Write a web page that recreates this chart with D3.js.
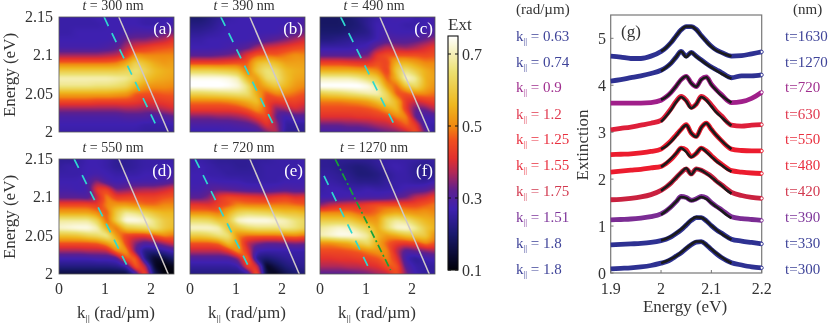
<!DOCTYPE html>
<html><head><meta charset="utf-8">
<script src="https://cdn.jsdelivr.net/npm/d3@7/dist/d3.min.js"></script>
<style>
html,body{margin:0;padding:0;background:#fff;width:830px;height:323px;overflow:hidden}
canvas,svg{position:absolute;left:0;top:0}
text{font-family:"Liberation Serif","Times New Roman",serif;fill:#333}
</style></head><body>
<canvas id="heat" width="830" height="323"></canvas>
<svg id="chart" width="830" height="323"></svg>
<script>
// Panel titles / labels
const thicknessTitles=["300","390","490","550","720","1270"];
const panelLetters=["(a)","(b)","(c)","(d)","(e)","(f)"];
const energyTicks=[2,2.05,2.1,2.15];
const kTicks=[0,1,2];
// Extinction ×100 on a grid: 16 rows (E=2.15 → 2.00), 13 columns (k=0 → 2.5)
const gridA=[
[26,26,26,26,27,27,27,27,27,26,26,26,27],
[26,26,26,26,26,27,27,27,27,26,26,27,28],
[26,26,27,27,27,27,27,28,29,29,29,31,33],
[27,27,27,27,27,27,28,33,34,34,36,38,42],
[28,28,28,28,28,29,31,37,41,43,45,46,47],
[36,36,36,36,36,37,38,42,52,50,50,50,50],
[48,48,48,48,48,48,49,54,62,58,54,52,53],
[60,60,60,60,60,60,60,62,66,62,57,55,54],
[70,70,70,70,70,70,69,68,64,58,55,54,53],
[67,67,67,67,66,66,65,63,56,52,51,51,50],
[54,54,54,54,54,54,53,52,47,46,46,47,47],
[45,45,45,45,44,44,44,44,43,41,42,43,44],
[35,35,35,35,35,35,35,36,36,35,36,38,40],
[29,29,29,29,29,29,29,30,30,30,28,30,32],
[27,27,27,27,27,27,27,27,27,26,26,26,27],
[26,26,26,26,26,26,26,26,26,25,25,25,25]];
const gridB=[
[20,20,22,24,26,27,27,27,27,27,27,28,28],
[22,22,23,25,27,27,27,27,27,27,27,28,30],
[24,24,25,26,27,27,27,27,27,27,29,30,33],
[26,26,27,27,27,27,27,28,30,32,34,37,40],
[27,27,27,27,28,29,31,36,40,41,43,45,46],
[31,31,31,32,33,35,42,47,48,47,49,51,50],
[44,44,44,44,45,46,47,57,60,57,53,53,53],
[62,62,62,61,60,58,48,60,66,64,57,55,54],
[74,74,74,74,73,70,56,52,64,66,58,54,53],
[76,76,76,76,75,73,66,50,55,60,56,52,50],
[62,62,63,64,65,66,65,54,46,50,50,48,46],
[49,49,49,49,50,52,55,58,44,42,44,44,42],
[43,43,43,43,43,44,47,52,46,34,36,40,37],
[34,34,34,35,35,36,38,43,46,32,27,30,30],
[29,29,29,29,29,30,31,34,42,36,25,25,25],
[26,26,26,26,27,27,27,28,34,38,24,24,24]];
const gridC=[
[19,19,19,20,22,24,26,27,28,28,26,27,29],
[19,19,19,20,21,24,27,27,27,26,26,27,28],
[20,20,20,21,22,23,27,28,27,27,27,28,30],
[22,22,23,24,25,25,27,30,30,30,31,33,36],
[26,26,26,26,27,28,34,38,36,35,37,40,43],
[31,31,31,31,32,33,43,46,46,46,46,45,46],
[44,44,44,43,42,42,46,44,56,56,53,50,50],
[55,55,55,55,54,53,50,43,60,66,60,55,52],
[70,70,70,70,68,64,60,46,56,72,68,55,53],
[76,76,76,76,76,74,68,52,47,60,64,55,51],
[60,62,63,65,67,69,70,62,46,46,50,50,48],
[49,49,49,50,51,53,58,63,56,42,39,42,44],
[45,45,45,45,45,46,48,53,57,42,32,33,38],
[41,41,41,41,42,42,43,44,50,50,31,28,29],
[33,33,33,34,34,35,37,38,42,48,42,27,26],
[28,28,28,29,29,30,31,33,34,38,46,32,24]];
const gridD=[
[24,24,25,27,27,26,24,24,25,26,26,26,26],
[25,26,26,27,27,26,24,24,25,26,26,27,27],
[26,26,26,27,28,27,26,26,26,27,27,27,28],
[27,27,27,29,35,29,27,28,28,28,28,29,31],
[28,28,27,28,43,44,33,34,36,37,37,39,42],
[31,31,31,30,38,50,43,44,45,44,44,46,47],
[45,45,45,45,43,50,52,52,50,48,48,50,50],
[53,53,53,53,50,46,60,68,66,62,58,56,56],
[68,68,68,68,62,46,62,74,74,72,66,60,58],
[72,73,74,74,70,54,48,60,62,64,66,60,57],
[58,58,59,62,64,68,52,44,42,42,46,50,48],
[46,46,46,46,47,52,60,44,34,30,32,36,40],
[36,36,36,37,37,38,50,52,32,22,22,25,28],
[27,27,27,27,28,28,29,46,48,22,13,15,20],
[22,22,22,22,22,22,23,26,48,38,13,10,12],
[15,15,15,15,15,15,15,15,26,46,18,10,10]];
const gridE=[
[26,26,25,24,24,24,24,25,25,26,26,26,27],
[26,27,26,25,25,24,24,25,26,26,26,26,27],
[27,27,26,26,25,25,25,25,26,26,26,27,27],
[27,27,28,27,27,27,26,26,26,26,27,27,27],
[28,28,30,32,31,30,29,29,28,29,30,29,29],
[31,31,34,42,45,44,43,42,41,43,44,41,42],
[42,42,41,44,46,50,49,49,49,49,49,48,47],
[50,50,50,48,55,62,64,63,62,60,58,58,56],
[64,64,63,58,60,72,74,74,74,72,70,66,63],
[72,72,72,70,58,60,64,66,66,66,68,66,62],
[60,60,62,66,66,50,48,48,48,48,49,50,48],
[46,46,46,48,58,52,38,34,32,32,33,34,33],
[38,38,38,38,42,52,42,27,26,26,26,26,26],
[29,29,29,29,29,34,50,22,20,22,24,25,25],
[25,25,25,25,25,26,44,40,12,17,21,23,24],
[22,22,22,22,22,22,24,48,14,12,17,20,21]];
const gridF=[
[24,24,24,24,24,24,25,26,26,26,26,25,26],
[24,24,23,22,21,22,24,26,27,26,24,23,25],
[25,25,24,23,21,21,22,24,26,26,24,23,24],
[26,26,25,24,23,23,23,25,26,26,25,25,27],
[26,27,27,26,26,27,26,26,26,28,29,30,34],
[27,27,27,28,28,28,28,29,31,33,38,40,44],
[34,38,40,41,42,44,46,46,46,45,45,47,49],
[50,50,50,50,47,46,48,52,54,52,51,52,50],
[60,60,60,60,56,52,52,64,68,66,60,56,54],
[68,70,72,71,66,62,54,65,72,73,68,60,55],
[70,72,74,74,72,68,56,52,54,58,60,60,50],
[50,50,52,54,60,64,54,47,43,42,44,50,46],
[45,45,45,46,47,50,52,50,38,30,32,34,36],
[41,41,42,42,43,44,46,50,42,27,24,27,28],
[37,37,37,38,38,40,41,46,47,30,26,25,25],
[31,31,31,31,32,33,36,38,46,34,27,25,25]];
const grids=[gridA,gridB,gridC,gridD,gridE,gridF];
// Dispersion guide lines: [k at start, E at start, k at end, E at end]
const lightLine=[1.30,2.15,2.375,2.0];
const cyanLines=[[0.98,2.15,2.10,2.01],[0.67,2.15,1.81,2.01],[0.45,2.15,1.61,2.01],[0.33,2.15,1.535,2.004],[0.11,2.15,1.32,2.004],[0.087,2.128,1.10,2.003]];
const greenLine=[0.33,2.15,1.535,2.005];
// Colour scale
const cmapStops=[.1,.2,.27,.32,.37,.41,.46,.5,.56,.65,.75];
const cmapColors=["#000008","#1a1a6e","#3e20b0","#5c2090","#b02858","#e2302e","#f04f1e","#f08a10","#eeb820","#ece070","#ffffff"];
const cbarTicks=[.1,.3,.5,.7];
// Panel (g)
const energies=[1.9,1.92,1.94,1.96,1.98,2.0,2.01,2.02,2.03,2.04,2.05,2.06,2.07,2.08,2.09,2.10,2.11,2.12,2.14,2.16,2.18,2.2];
const fitEnergies=[2.0,2.01,2.02,2.03,2.04,2.05,2.06,2.07,2.08,2.09,2.10,2.11,2.12,2.13,2.14];
const curve300=[.09,.1,.11,.13,.16,.21,.24,.29,.36,.43,.52,.6,.66,.67,.6,.5,.41,.33,.22,.17,.13,.11];
const curve330=[.60,.61,.62,.63,.65,.69,.72,.77,.84,.92,1.02,1.12,1.18,1.18,1.11,1.01,.92,.85,.72,.68,.65,.62];
const curve390=[1.13,1.14,1.15,1.17,1.2,1.26,1.32,1.41,1.52,1.63,1.61,1.55,1.58,1.63,1.6,1.5,1.42,1.35,1.2,1.16,1.14,1.12];
const curve420=[1.56,1.57,1.59,1.62,1.67,1.76,1.83,1.92,2.03,2.14,2.22,2.11,2.22,2.19,2.13,2.06,1.96,1.88,1.72,1.65,1.61,1.59];
const curve480=[2.15,2.17,2.19,2.21,2.24,2.27,2.33,2.42,2.54,2.66,2.62,2.48,2.55,2.66,2.6,2.5,2.4,2.32,2.18,2.15,2.13,2.12];
const curve550=[2.52,2.53,2.54,2.56,2.59,2.64,2.72,2.82,2.94,3.06,3.16,2.98,2.91,3.1,3.19,3.06,2.93,2.82,2.64,2.61,2.6,2.6];
const curve630=[3.05,3.08,3.11,3.15,3.19,3.25,3.36,3.5,3.66,3.76,3.68,3.53,3.6,3.76,3.7,3.58,3.45,3.35,3.15,3.13,3.15,3.16];
const curve720=[3.62,3.62,3.62,3.62,3.63,3.68,3.75,3.85,3.98,4.12,4.19,4.05,3.97,4.13,4.18,4.02,3.9,3.8,3.63,3.65,3.72,3.85];
const curve1270=[4.09,4.12,4.16,4.2,4.25,4.32,4.38,4.47,4.6,4.72,4.62,4.7,4.62,4.54,4.46,4.39,4.33,4.27,4.16,4.2,4.2,4.22];
const curve1630=[4.62,4.6,4.57,4.57,4.62,4.72,4.8,4.91,5.05,5.18,5.25,5.25,5.19,5.06,4.94,4.83,4.75,4.7,4.62,4.63,4.67,4.71];
const fit300=[.21,.25,.3,.36,.44,.53,.61,.67,.67,.6,.51,.42,.34,.27,.21];
const fit330=[.69,.73,.78,.85,.93,1.03,1.13,1.19,1.18,1.11,1.01,.92,.84,.77,.71];
const fit390=[1.24,1.32,1.41,1.52,1.62,1.6,1.54,1.57,1.62,1.58,1.49,1.41,1.33,1.24,1.17];
const fit420=[1.75,1.83,1.92,2.03,2.14,2.23,2.1,2.22,2.19,2.12,2.04,1.95,1.87,1.77,1.69];
const fit480=[2.26,2.34,2.44,2.55,2.66,2.58,2.47,2.55,2.66,2.58,2.48,2.38,2.3,2.22,2.16];
const fit550=[2.64,2.7,2.8,2.92,3.06,3.15,2.98,2.9,3.1,3.19,3.06,2.93,2.82,2.72,2.64];
const fit630=[3.22,3.34,3.48,3.64,3.75,3.66,3.51,3.6,3.75,3.68,3.55,3.42,3.32,3.22,3.14];
const fit720=[3.69,3.75,3.85,3.98,4.12,4.19,4.04,3.97,4.12,4.17,4.01,3.89,3.78,3.7,3.63];
const fit1270=[4.3,4.38,4.47,4.6,4.72,4.6,4.7,4.61,4.53,4.45,4.38,4.31,4.25,4.19,4.14];
const fit1630=[4.72,4.8,4.91,5.05,5.18,5.25,5.25,5.18,5.05,4.93,4.82,4.74,4.69,4.65,4.62];
const curves=[curve300,curve330,curve390,curve420,curve480,curve550,curve630,curve720,curve1270,curve1630];
const fits=[fit300,fit330,fit390,fit420,fit480,fit550,fit630,fit720,fit1270,fit1630];
const curveColors=["#2e3192","#2e3192","#7b2c94","#c9213f","#ec1c2e","#ec1c2e","#de1f3a","#a01f8a","#2e3192","#2e3192"];
const kLabels=["0.63","0.74","0.9","1.2","1.25","1.55","1.75","1.51","1.8","1.8"];
const tLabels=["t=1630","t=1270","t=720","t=630","t=550","t=480","t=420","t=390","t=330","t=300"];
const labelColors=["#3f4499","#3f4499","#a0308f","#e03a50","#e9303f","#e9303f","#d23a50","#7e369a","#3f4499","#3f4499"];
const labelRows=[36,62,87,114,139,165,191,217,243,269];
const gXTicks=[1.9,2,2.1,2.2];
const gYTicks=[0,1,2,3,4,5];

const svg=d3.select("#chart");
const ctx=document.getElementById("heat").getContext("2d");
const color=d3.scaleLinear().domain(cmapStops).range(cmapColors).interpolate(d3.interpolateRgb).clamp(true);
const panelX=[59,190,320],panelY=[17,159],panelW=115,panelH=115;
const shear=0.38; // rows are blended along the slope of the dispersion lines

grids.forEach((grid,i)=>{
  const col=i%3,row=Math.floor(i/3);
  const x0=panelX[col],y0=panelY[row];
  const nc=grid[0].length,nr=grid.length;
  const x=d3.scaleLinear().domain([0,2.5]).range([x0,x0+panelW]);
  const y=d3.scaleLinear().domain([2,2.15]).range([y0+panelH,y0]);
  const cx=d3.scaleLinear().domain([0,2.5]).range([0,nc-1]);
  const cy=d3.scaleLinear().domain([2.15,2]).range([0,nr-1]);
  const sampleRow=(r,u)=>{
    const c=Math.max(0,Math.min(nc-1,u)),c0=Math.min(Math.floor(c),nc-2),f=c-c0;
    return grid[r][c0]*(1-f)+grid[r][c0+1]*f;
  };
  const field=new Float64Array(panelW*panelH);
  for(let py=0;py<panelH;py++)for(let px=0;px<panelW;px++){
    const u=cx(x.invert(x0+px+.5)),v=cy(y.invert(y0+py+.5));
    const r0=Math.min(Math.floor(v),nr-2),fv=v-r0;
    field[py*panelW+px]=(sampleRow(r0,u-shear*fv)*(1-fv)+sampleRow(r0+1,u+shear*(1-fv))*fv)/100;
  }
  if(d3.blur2) d3.blur2({data:field,width:panelW,height:panelH},1);
  const img=ctx.createImageData(panelW,panelH);
  for(let k=0;k<field.length;k++){
    const rgb=d3.rgb(color(field[k]));
    img.data[k*4]=rgb.r;img.data[k*4+1]=rgb.g;img.data[k*4+2]=rgb.b;img.data[k*4+3]=255;
  }
  ctx.putImageData(img,x0,y0);
  const g=svg.append("g");
  g.append("defs").append("clipPath").attr("id","clip"+i).append("rect").attr("x",x0).attr("y",y0).attr("width",panelW).attr("height",panelH);
  const seg=(s)=>g.append("line").attr("x1",x(s[0])).attr("y1",y(s[1])).attr("x2",x(s[2])).attr("y2",y(s[3])).attr("clip-path",`url(#clip${i})`);
  seg(lightLine).attr("stroke","#cfc8c8").attr("stroke-width",1.5);
  seg(cyanLines[i]).attr("stroke","#2fd8d0").attr("stroke-width",1.7).attr("stroke-dasharray","10,8");
  if(i===5) seg(greenLine).attr("stroke","#18a038").attr("stroke-width",1.7).attr("stroke-dasharray","8,3,2,3");
  g.append("rect").attr("x",x0).attr("y",y0).attr("width",panelW).attr("height",panelH).attr("fill","none").attr("stroke","#555").attr("stroke-width",.8);
  const title=g.append("text").attr("x",x0+54).attr("y",y0-7).attr("text-anchor","middle").attr("font-size",14);
  title.append("tspan").attr("font-style","italic").text("t");
  title.append("tspan").text(` = ${thicknessTitles[i]} nm`);
  g.append("text").attr("x",x0+panelW-2).attr("y",y0+17).attr("text-anchor","end").attr("font-size",17).style("fill","#fff").text(panelLetters[i]);
  if(col===0){
    energyTicks.forEach(e=>g.append("text").attr("x",x0-6).attr("y",y(e)+5).attr("text-anchor","end").attr("font-size",16).text(e));
    g.append("text").attr("transform",`translate(15,${y0+58}) rotate(-90)`).attr("text-anchor","middle").attr("font-size",17).text("Energy (eV)");
  }
  if(row===1){
    kTicks.forEach(k=>g.append("text").attr("x",x(k)).attr("y",y0+panelH+20).attr("text-anchor","middle").attr("font-size",16).text(k));
    const t=g.append("text").attr("x",x0+57).attr("y",y0+panelH+44).attr("text-anchor","middle").attr("font-size",17);
    t.append("tspan").text("k");
    t.append("tspan").attr("font-size",11).attr("dy",4).text("||");
    t.append("tspan").attr("dy",-4).text(" (rad/µm)");
  }
});

// Colour bar
const cbY=d3.scaleLinear().domain([.1,.75]).range([270,36]);
for(let py=36;py<270;py++){ctx.fillStyle=color(cbY.invert(py+.5));ctx.fillRect(448,py,10,1);}
svg.append("rect").attr("x",448).attr("y",36).attr("width",10).attr("height",234).attr("fill","none").attr("stroke","#111").attr("stroke-width",1.1);
cbarTicks.forEach(t=>{
  svg.append("line").attr("x1",448).attr("x2",451).attr("y1",cbY(t)).attr("y2",cbY(t)).attr("stroke","#111");
  svg.append("line").attr("x1",455).attr("x2",458).attr("y1",cbY(t)).attr("y2",cbY(t)).attr("stroke","#111");
  svg.append("text").attr("x",462).attr("y",cbY(t)+6).attr("font-size",16).text(t);
});
svg.append("text").attr("x",448).attr("y",30).attr("font-size",17).text("Ext");

// Panel (g)
const gx=d3.scaleLinear().domain([1.9,2.2]).range([610.7,761.7]);
const gy=d3.scaleLinear().domain([0,5]).range([273,38.3]);
const line=d3.line().x(d=>gx(d[0])).y(d=>gy(d[1])).curve(d3.curveMonotoneX);
const gG=svg.append("g");
gG.append("rect").attr("x",610.7).attr("y",15).attr("width",151).attr("height",258).attr("fill","none").attr("stroke","#777").attr("stroke-width",1.2);
curves.forEach((c,i)=>{
  const pts=energies.map((e,j)=>[e,c[j]]);
  gG.append("path").attr("d",line(pts)).attr("fill","none").attr("stroke",curveColors[i]).attr("stroke-width",4.8);
  gG.append("circle").attr("cx",gx(2.2)).attr("cy",gy(c[c.length-1])).attr("r",1.6).attr("fill","#fff").attr("stroke",curveColors[i]).attr("stroke-width",.9);
});
fits.forEach(f=>{
  gG.append("path").attr("d",line(fitEnergies.map((e,j)=>[e,f[j]]))).attr("fill","none").attr("stroke","#1a1a1a").attr("stroke-width",2.6);
});
gYTicks.forEach(t=>{
  gG.append("line").attr("x1",610.7).attr("x2",613.5).attr("y1",gy(t)).attr("y2",gy(t)).attr("stroke","#777");
  gG.append("text").attr("x",606).attr("y",gy(t)+5.5).attr("text-anchor","end").attr("font-size",16).text(t);
});
gXTicks.forEach(t=>{
  gG.append("line").attr("x1",gx(t)).attr("x2",gx(t)).attr("y1",273).attr("y2",270).attr("stroke","#777");
  gG.append("text").attr("x",gx(t)).attr("y",294).attr("text-anchor","middle").attr("font-size",16).text(t);
});
gG.append("text").attr("x",685).attr("y",312).attr("text-anchor","middle").attr("font-size",17).text("Energy (eV)");
gG.append("text").attr("transform",`translate(588,145) rotate(-90)`).attr("text-anchor","middle").attr("font-size",17).text("Extinction");
gG.append("text").attr("x",621).attr("y",37).attr("font-size",17).text("(g)");
gG.append("text").attr("x",516).attr("y",14).attr("font-size",15).text("(rad/µm)");
gG.append("text").attr("x",793).attr("y",14).attr("font-size",15).text("(nm)");
labelRows.forEach((y,i)=>{
  const t=gG.append("text").attr("x",516).attr("y",y+5).attr("font-size",15).style("fill",labelColors[i]);
  t.append("tspan").text("k");
  t.append("tspan").attr("font-size",9).attr("dy",3).text("||");
  t.append("tspan").attr("dy",-3).text(` = ${kLabels[i]}`);
  gG.append("text").attr("x",785).attr("y",y+5).attr("font-size",15).style("fill",labelColors[i]).text(tLabels[i]);
});
</script>
</body></html>
